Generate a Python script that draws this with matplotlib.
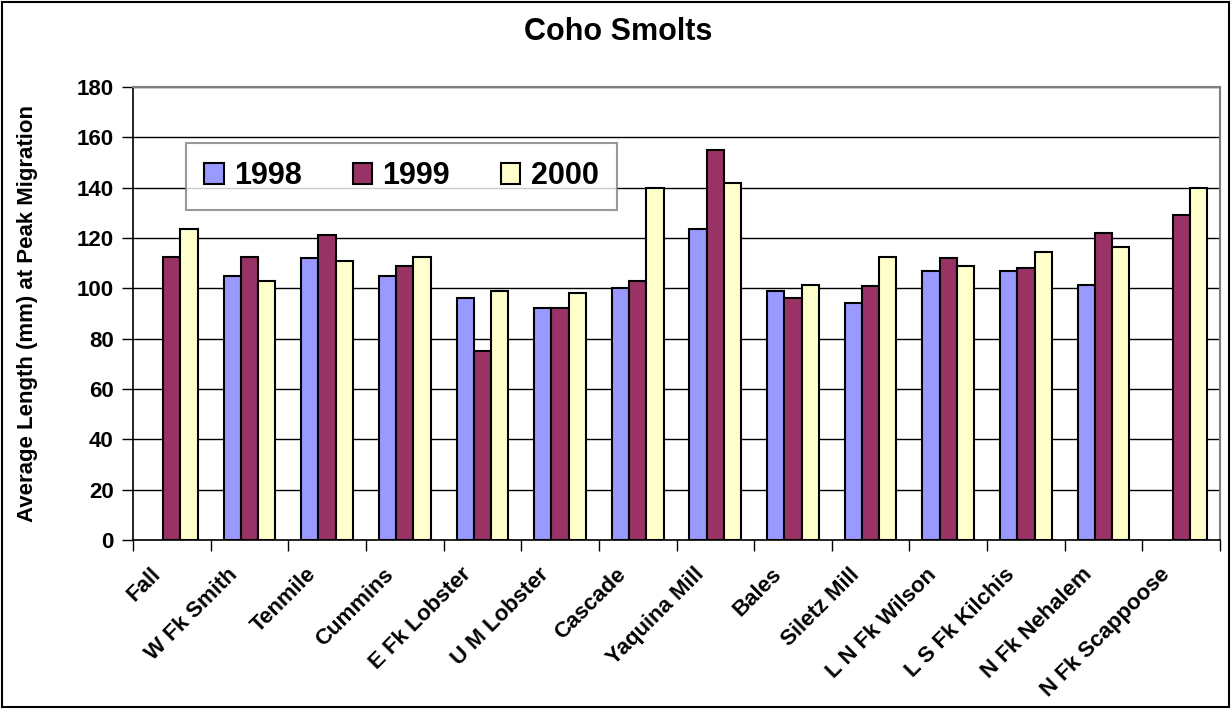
import numpy as np
import matplotlib.pyplot as plt
from matplotlib.patches import Rectangle

plt.rcParams['font.family'] = ['Liberation Sans', 'DejaVu Sans']
plt.rcParams['font.weight'] = 'bold'

# average smolt length per stream and year
streams = ['Fall', 'W Fk Smith', 'Tenmile', 'Cummins', 'E Fk Lobster',
           'U M Lobster', 'Cascade', 'Yaquina Mill', 'Bales', 'Siletz Mill',
           'L N Fk Wilson', 'L S Fk Kilchis', 'N Fk Nehalem', 'N Fk Scappoose']
len_1998 = [np.nan, 105, 112, 105, 96, 92, 100, 123.5, 99, 94, 107, 107, 101.5, np.nan]
len_1999 = [112.5, 112.5, 121, 109, 75, 92, 103, 155, 96, 101, 112, 108, 122, 129]
len_2000 = [123.5, 103, 111, 112.5, 99, 98, 140, 142, 101.5, 112.5, 109, 114.5, 116.5, 140]
years = ['1998', '1999', '2000']
colors = ['#9999FF', '#993366', '#FFFFCC']

fig = plt.figure(figsize=(12.31, 7.09), dpi=100)
ax = fig.add_axes([133 / 1231, 1 - 540 / 709, (1220 - 133) / 1231, (540 - 87) / 709])

x = np.arange(len(streams))
w = 0.222
for i, (vals, c, lab) in enumerate(zip([len_1998, len_1999, len_2000], colors, years)):
    ax.bar(x + (i - 1) * w, vals, width=w, color=c, edgecolor='black',
           linewidth=1.5, label=lab, zorder=3)

ax.set_xlim(-0.5, len(streams) - 0.5)
ax.set_ylim(0, 180)
ax.set_yticks(np.arange(0, 181, 20))
ax.yaxis.grid(True, color='black', linewidth=1.0, zorder=0)
ax.set_axisbelow(True)

# ticks sit on the category boundaries
ax.set_xticks(np.arange(-0.5, len(streams) + 0.5, 1))
ax.set_xticklabels([])
ax.tick_params(axis='x', length=8, width=1, direction='out')
ax.tick_params(axis='y', length=8, width=1, direction='out', labelsize=16, pad=6)

# slanted stream names under each group
for xi, name in zip(x, streams):
    ax.annotate(name, xy=(xi, 0), xycoords=('data', 'axes fraction'),
                xytext=(-22, -24), textcoords='offset pixels',
                rotation=45, ha='right', va='top', rotation_mode='anchor',
                fontsize=16, fontweight='bold', annotation_clip=False)

for s in ['top', 'right']:
    ax.spines[s].set_color('#808080')
    ax.spines[s].set_linewidth(1.5)
for s in ['left', 'bottom']:
    ax.spines[s].set_color('black')
    ax.spines[s].set_linewidth(1.2)

ax.set_ylabel('Average Length (mm) at Peak Migration', fontsize=16,
              fontweight='bold', labelpad=28)

fig.text(618 / 1231, 1 - 32 / 709, 'Coho Smolts', ha='center', va='center',
         fontsize=22, fontweight='bold')

leg = ax.legend(loc='upper left', bbox_to_anchor=((186 - 133) / 1087, (540 - 143) / 453),
                borderaxespad=0, ncol=3, fontsize=22, frameon=True, fancybox=False,
                handlelength=0.65, handleheight=0.65, handletextpad=0.33,
                columnspacing=1.65, borderpad=0.6)
leg.get_frame().set_edgecolor('#808080')
leg.get_frame().set_linewidth(1.5)
leg.set_zorder(5)
for t in leg.get_texts():
    t.set_fontweight('bold')
for h in leg.legend_handles:
    h.set_linewidth(1.5)

# outer frame round the whole chart
fig.patches.append(Rectangle((2 / 1231, 2 / 709), 1 - 4 / 1231, 1 - 4 / 709,
                             transform=fig.transFigure, fill=False,
                             edgecolor='black', linewidth=1.5))

fig.savefig('out.png', dpi=100)
